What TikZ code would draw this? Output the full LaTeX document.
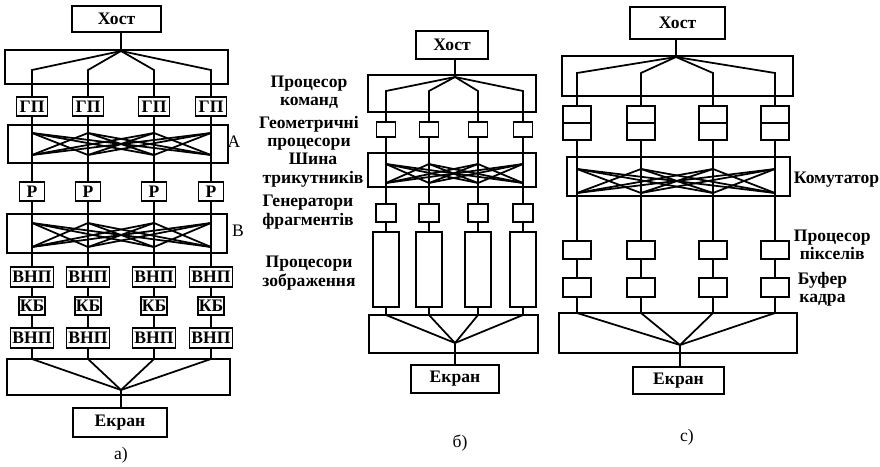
\documentclass[tikz,border=0pt]{standalone}
\usepackage{fontspec}
\setmainfont{Liberation Serif}
\usetikzlibrary{positioning,calc}
\newdimen\pxu
\pxu=0.02cm

\begin{document}
\begin{tikzpicture}[
  x=0.02cm, y=-0.02cm,
  line width=1pt,
  blk/.style={
    draw,
    line width=1.1pt,
    inner sep=0pt,
    font=\fontsize{10}{11}\selectfont\bfseries
  },
  sz/.style 2 args={minimum width=#1\pxu, minimum height=#2\pxu},
  wire/.style={line width=1pt},
  lbl/.style={
    font=\fontsize{10}{10.5}\selectfont\bfseries,
    align=center,
    inner sep=0pt
  },
  captxt/.style={font=\fontsize{10}{11}\selectfont, inner sep=0pt}
]
  \useasboundingbox (0,0) rectangle (880,467);

  % Diagram a): sort-last with two crossbars
  \node[blk, sz={89}{26}] (hostA) at (116.5,19) {Хост};
  \node[blk, sz={223}{34}] (distA) at (116.5,67) {};
  \coordinate (fanA) at (121,51);
  \draw[wire] (hostA.south -| fanA) -- (fanA);

  \node[blk, sz={220}{38}] (boxA) at (118,144) {};
  \node[captxt] (labA) at (234,142) {А};
  \node[blk, sz={220}{39}] (boxB) at (117,233.5) {};
  \node[captxt] (labB) at (238,231) {В};
  \node[blk, sz={223}{36}] (mrgA) at (118.5,377) {};
  \coordinate (cvA) at (121,390);

  \foreach \i/\cx in {1/32,2/88,3/154,4/211}{
    \node[blk, sz={31}{19}] (gpA\i) at (\cx,106.5) {ГП};
    \node[blk, sz={25}{19}] (rA\i) at (\cx,191.5) {Р};
    \node[blk, sz={43}{20}] (vnA\i) at (\cx,277) {ВНП};
    \node[blk, sz={26}{18}] (kbA\i) at (\cx,306) {КБ};
    \node[blk, sz={43}{20}] (voA\i) at (\cx,338) {ВНП};
    \coordinate (bA\i) at (\cx,70);
    \coordinate (xaT\i) at (\cx,133);
    \coordinate (xaB\i) at (\cx,155);
    \coordinate (xbT\i) at (\cx,223);
    \coordinate (xbB\i) at (\cx,247);
    \coordinate (mtA\i) at (\cx,359);
    \draw[wire] (fanA) -- (bA\i) -- (gpA\i);
    \draw[wire] (gpA\i) -- (rA\i);
    \draw[wire] (rA\i) -- (vnA\i);
    \draw[wire] (vnA\i) -- (kbA\i);
    \draw[wire] (kbA\i) -- (voA\i);
    \draw[wire] (voA\i) -- (mtA\i) -- (cvA);
  }
  \foreach \i in {1,...,4}{
    \foreach \j in {1,...,4}{
      \ifnum\i=\j\else
        \draw[wire] (xaT\i) -- (xaB\j);
        \draw[wire] (xbT\i) -- (xbB\j);
      \fi
    }
  }
  \node[blk, sz={94}{29}] (scrA) at (120,422.5) {Екран};
  \draw[wire] (cvA) -- (cvA |- scrA.north);
  \node[captxt] (capA) at (121,455) {а)};

  % Diagram b): pipeline with triangle bus
  \node[blk, sz={72}{28}] (hostB) at (452,45) {Хост};
  \node[blk, sz={168}{37}] (cmdB) at (452,93.5) {};
  \coordinate (fanB) at (455,77);
  \draw[wire] (hostB.south -| fanB) -- (fanB);

  \node[blk, sz={168}{34}] (busB) at (452,170) {};
  \node[blk, sz={169}{38}] (mrgB) at (453.5,334) {};
  \coordinate (cvB) at (455,343);

  \foreach \i/\cx in {1/386,2/429,3/478,4/523}{
    \node[blk, sz={19}{15}] (geoB\i) at (\cx,129.5) {};
    \node[blk, sz={20}{18}] (genB\i) at (\cx,213) {};
    \node[blk, sz={26}{75}] (imgB\i) at (\cx,269.5) {};
    \coordinate (bB\i) at (\cx,91);
    \coordinate (xcT\i) at (\cx,164);
    \coordinate (xcB\i) at (\cx,183);
    \coordinate (mtB\i) at (\cx,315);
    \draw[wire] (fanB) -- (bB\i) -- (geoB\i);
    \draw[wire] (geoB\i) -- (genB\i);
    \draw[wire] (genB\i) -- (imgB\i);
    \draw[wire] (imgB\i) -- (mtB\i) -- (cvB);
  }
  \foreach \i in {1,...,4}{
    \foreach \j in {1,...,4}{
      \ifnum\i=\j\else
        \draw[wire] (xcT\i) -- (xcB\j);
      \fi
    }
  }
  \node[blk, sz={88}{28}] (scrB) at (455,379) {Екран};
  \draw[wire] (cvB) -- (cvB |- scrB.north);
  \node[captxt] (capB) at (460,443) {б)};

  \node[lbl] (tCmd) at (309,92) {Процесор\\команд};
  \node[lbl] (tGeo) at (309,133) {Геометричні\\процесори};
  \node[lbl] (tBus) at (313,170) {Шина\\трикутників};
  \node[lbl] (tGen) at (308,212) {Генератори\\фрагментів};
  \node[lbl] (tImg) at (309,273) {Процесори\\зображення};

  % Diagram c): switch between geometry and pixel units
  \node[blk, sz={95}{32}] (hostC) at (677.5,23) {Хост};
  \node[blk, sz={231}{40}] (distC) at (677.5,76) {};
  \coordinate (fanC) at (676,57);
  \draw[wire] (hostC.south -| fanC) -- (fanC);

  \node[blk, sz={223}{39}] (swC) at (678.5,176.5) {};
  \node[lbl, anchor=west] (tSw) at (793,180) {Комутатор};
  \node[blk, sz={238}{40}] (mrgC) at (678,333) {};
  \coordinate (cvC) at (680,345);

  \foreach \i/\cx in {1/577,2/641,3/713,4/775}{
    \node[blk, sz={28}{34}] (dblC\i) at (\cx,123) {};
    \draw[line width=1.1pt] (dblC\i.west) -- (dblC\i.east);
    \node[blk, sz={28}{18}] (pixC\i) at (\cx,250) {};
    \node[blk, sz={28}{19}] (fbC\i) at (\cx,287.5) {};
    \coordinate (bC\i) at (\cx,73);
    \coordinate (xdT\i) at (\cx,169);
    \coordinate (xdB\i) at (\cx,193);
    \coordinate (mtC\i) at (\cx,313);
    \draw[wire] (fanC) -- (bC\i) -- (dblC\i);
    \draw[wire] (dblC\i) -- (pixC\i);
    \draw[wire] (pixC\i) -- (fbC\i);
    \draw[wire] (fbC\i) -- (mtC\i) -- (cvC);
  }
  \foreach \i in {1,...,4}{
    \foreach \j in {1,...,4}{
      \ifnum\i=\j\else
        \draw[wire] (xdT\i) -- (xdB\j);
      \fi
    }
  }
  \node[blk, sz={91}{27}] (scrC) at (678.5,380.5) {Екран};
  \draw[wire] (cvC) -- (cvC |- scrC.north);
  \node[captxt] (capC) at (687,437) {с)};

  \node[lbl, anchor=west] (tPix) at (793,245) {Процесор\\пікселів};
  \node[lbl, anchor=west] (tFb) at (797,289) {Буфер\\кадра};

\end{tikzpicture}
\end{document}
